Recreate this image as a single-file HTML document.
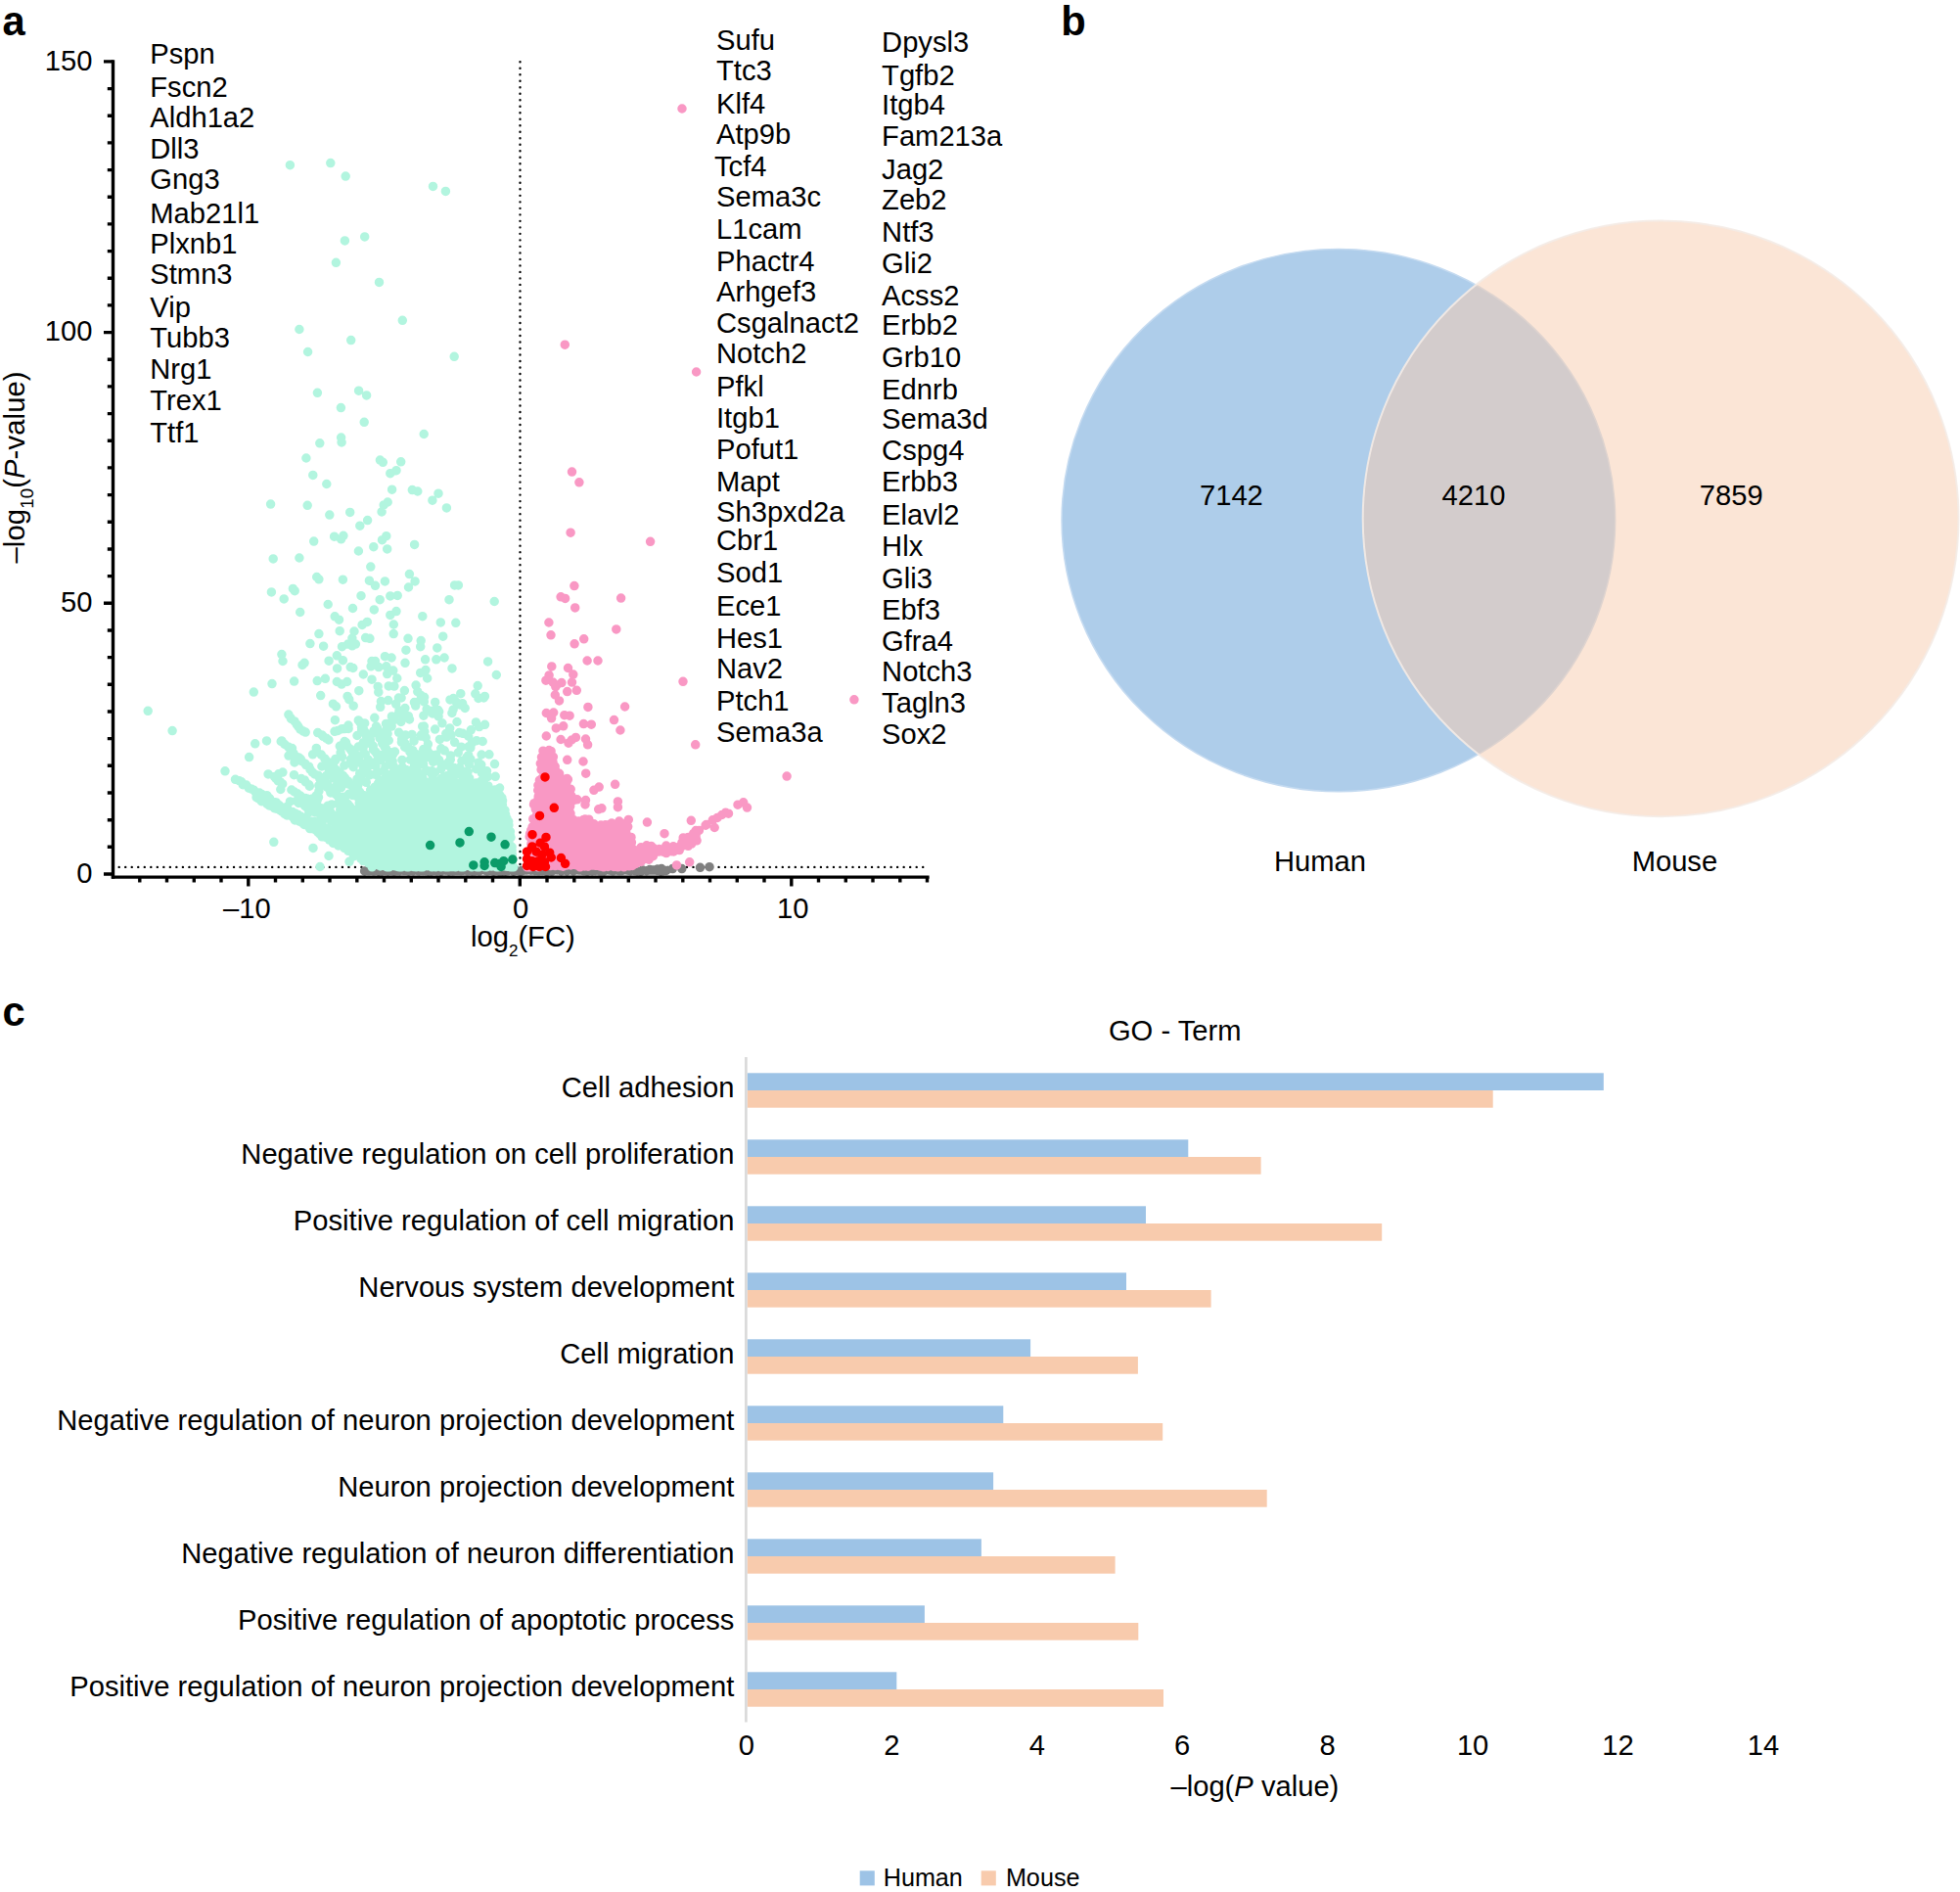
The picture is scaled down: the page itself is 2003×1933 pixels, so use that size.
<!DOCTYPE html>
<html><head><meta charset="utf-8"><title>Figure</title>
<style>html,body{margin:0;padding:0;background:#fff}svg{display:block}text{font-family:"Liberation Sans",sans-serif;font-size:29.17px;fill:#000}.pl{font-weight:bold;font-size:41.67px}</style></head><body>
<svg width="2003" height="1933" viewBox="0 0 2003 1933">
<rect width="2003" height="1933" fill="#fff"/>
<g stroke="#000" fill="none">
<path d="M531.5 63.2V892" stroke-width="2.4" stroke-linecap="round" stroke-dasharray="0 6.506"/>
<path d="M121.7 885.9H944" stroke-width="2.4" stroke-linecap="round" stroke-dasharray="0 6.52"/>
</g>
<path d="M372.6 890.0h0M375.8 889.4h0M377.5 889.6h0M381.9 889.8h0M384.7 889.2h0M387.0 890.2h0M390.1 890.0h0M393.6 889.5h0M396.4 889.9h0M398.9 889.6h0M402.6 890.1h0M406.0 889.4h0M408.4 889.7h0M411.7 889.2h0M413.9 889.3h0M417.6 889.9h0M419.0 889.1h0M422.3 889.7h0M426.6 889.4h0M428.2 889.7h0M432.2 889.5h0M434.5 889.4h0M437.5 890.0h0M440.8 889.9h0M444.1 889.2h0M446.6 889.8h0M450.7 890.2h0M452.3 889.3h0M455.2 889.2h0M458.8 889.9h0M462.8 889.7h0M464.3 889.4h0M467.3 889.3h0M471.1 889.6h0M473.3 889.3h0M477.8 889.8h0M480.2 889.4h0M482.6 890.0h0M485.0 889.8h0M489.9 889.8h0M491.1 888.9h0M495.6 889.2h0M497.8 889.8h0M501.4 889.3h0M504.4 890.2h0M506.9 889.5h0M510.4 890.1h0M513.4 890.2h0M516.6 890.2h0M518.5 889.8h0M521.4 889.1h0M524.7 890.2h0M527.6 889.3h0M531.9 890.3h0M534.5 889.4h0M537.6 889.0h0M539.0 889.0h0M542.7 889.2h0M546.7 889.5h0M549.7 889.6h0M551.7 889.4h0M554.1 889.5h0M558.9 890.3h0M561.9 889.0h0M563.9 890.1h0M566.3 889.0h0M569.4 889.0h0M573.5 889.9h0M577.0 889.0h0M579.4 890.0h0M581.4 889.0h0M586.0 890.0h0M587.1 889.2h0M591.3 889.1h0M593.9 889.1h0M596.2 889.6h0M600.1 890.1h0M602.0 889.4h0M605.1 889.7h0M608.3 889.4h0M612.9 889.8h0M615.3 889.7h0M617.4 889.9h0M621.9 889.0h0M624.7 889.4h0M626.4 889.8h0M630.7 889.1h0M632.4 889.6h0M635.4 889.6h0M640.0 888.9h0M641.9 889.2h0M644.3 889.7h0M648.9 889.6h0M651.1 889.9h0M654.7 890.3h0M656.7 889.1h0M660.8 889.7h0M663.8 889.1h0M666.6 889.1h0M668.3 889.1h0M671.7 889.5h0M675.3 890.2h0M677.9 889.7h0M680.8 889.4h0M687.3 887.6h0M696.8 887.6h0M715.5 886.3h0M725.0 885.7h0M672.0 888.0h0M676.0 887.5h0M664.0 888.5h0" stroke="#808080" stroke-width="9.5" stroke-linecap="round" fill="none"/>
<path d="M415.2 797.3h0M425.1 797.6h0M427.6 797.2h0M432.7 798.2h0M444.9 797.8h0M393.9 801.6h0M396.6 800.3h0M399.8 801.1h0M403.9 799.3h0M408.6 799.6h0M413.2 799.2h0M416.3 799.5h0M420.8 800.2h0M424.8 801.9h0M430.9 799.5h0M433.9 800.2h0M438.5 799.4h0M444.2 802.2h0M447.2 800.6h0M450.2 799.4h0M455.2 799.9h0M461.0 799.6h0M462.6 802.1h0M476.8 802.2h0M383.0 804.2h0M385.4 805.2h0M390.1 805.3h0M396.3 804.0h0M398.7 805.7h0M403.9 803.3h0M406.2 803.2h0M412.9 805.3h0M414.7 805.4h0M421.5 804.8h0M423.7 804.5h0M427.2 802.8h0M434.1 804.8h0M436.9 805.7h0M440.8 805.5h0M446.2 803.4h0M448.6 803.6h0M452.8 804.6h0M457.0 804.0h0M460.8 805.6h0M465.7 804.2h0M470.7 805.6h0M474.3 805.6h0M478.8 804.4h0M483.1 802.8h0M487.0 803.3h0M489.8 805.3h0M378.7 807.1h0M382.9 808.5h0M389.4 809.2h0M391.6 808.7h0M397.4 806.8h0M402.3 809.5h0M404.4 809.4h0M409.2 807.9h0M415.3 809.0h0M416.8 807.7h0M422.1 807.4h0M425.3 807.4h0M431.2 806.4h0M434.9 807.8h0M437.4 807.4h0M443.5 808.0h0M445.9 809.5h0M452.4 809.5h0M454.4 807.2h0M458.4 808.9h0M463.4 806.8h0M468.1 809.3h0M473.5 807.2h0M475.6 809.3h0M481.1 808.6h0M483.8 806.5h0M489.9 807.7h0M492.1 809.4h0M498.1 808.9h0M500.6 809.1h0M504.7 809.1h0M379.0 811.4h0M382.2 812.7h0M386.1 811.6h0M391.2 813.2h0M394.3 812.7h0M399.7 812.1h0M402.9 811.1h0M406.0 810.4h0M410.2 812.4h0M415.0 810.5h0M418.7 812.7h0M425.4 812.2h0M427.7 810.8h0M431.9 811.5h0M435.7 811.4h0M440.2 813.1h0M446.7 811.8h0M448.6 813.1h0M453.0 811.2h0M456.2 811.2h0M461.9 811.6h0M465.2 811.6h0M468.8 810.9h0M473.3 811.3h0M477.3 810.1h0M482.4 810.8h0M487.5 811.7h0M492.2 812.1h0M496.3 812.8h0M499.4 811.1h0M505.6 810.5h0M508.9 812.1h0M510.9 812.7h0M372.1 815.8h0M375.9 813.7h0M381.1 816.1h0M384.3 815.4h0M389.0 813.9h0M393.5 814.5h0M395.5 814.5h0M401.8 814.3h0M406.1 816.8h0M409.5 814.9h0M413.6 815.9h0M418.8 815.6h0M422.6 813.9h0M425.2 814.5h0M431.3 814.6h0M434.9 813.7h0M437.5 814.5h0M443.7 815.9h0M447.9 814.6h0M451.6 815.2h0M455.6 814.0h0M461.2 814.3h0M465.6 816.7h0M466.8 815.1h0M473.5 816.8h0M476.5 814.5h0M480.0 816.7h0M484.2 815.5h0M488.2 815.3h0M494.9 814.1h0M498.7 815.3h0M503.1 815.9h0M505.2 816.5h0M510.3 813.7h0M512.9 815.2h0M372.5 820.0h0M377.3 820.3h0M381.4 818.2h0M386.4 817.9h0M390.2 820.4h0M396.0 819.9h0M399.4 820.2h0M404.6 819.1h0M408.1 817.5h0M412.3 818.8h0M416.6 819.4h0M419.3 817.5h0M425.6 817.7h0M428.3 818.4h0M432.0 819.7h0M438.3 818.2h0M441.5 818.3h0M445.4 818.6h0M448.3 817.8h0M452.7 820.2h0M457.8 818.0h0M463.3 820.5h0M466.0 817.8h0M469.4 817.6h0M474.1 817.6h0M478.0 818.2h0M483.2 820.2h0M488.0 818.6h0M491.1 819.0h0M495.2 818.4h0M498.4 818.2h0M505.5 817.7h0M508.2 819.3h0M513.6 818.0h0M371.8 823.2h0M377.3 823.3h0M380.6 823.4h0M384.2 822.7h0M387.0 823.5h0M391.8 823.9h0M397.4 822.0h0M399.9 821.8h0M405.7 823.2h0M408.3 821.2h0M413.8 822.8h0M417.5 821.7h0M422.4 821.0h0M425.7 822.5h0M432.0 823.0h0M435.9 822.5h0M438.1 821.8h0M444.6 823.2h0M446.7 821.0h0M451.5 823.1h0M455.4 821.8h0M460.4 823.9h0M463.2 821.1h0M467.8 822.3h0M473.1 821.6h0M477.7 823.3h0M480.9 821.6h0M486.6 822.0h0M490.3 821.7h0M492.6 823.4h0M497.0 824.0h0M501.9 821.6h0M505.2 822.3h0M510.8 824.0h0M513.4 822.2h0M368.5 824.6h0M373.1 825.8h0M379.5 825.0h0M383.7 825.3h0M385.9 827.3h0M391.6 826.0h0M393.4 826.1h0M398.6 827.6h0M402.2 825.8h0M408.7 824.7h0M411.3 827.2h0M416.7 824.8h0M418.5 824.8h0M425.5 825.5h0M429.2 827.5h0M432.1 825.5h0M438.3 826.6h0M440.2 826.9h0M444.6 825.5h0M447.8 827.1h0M454.9 826.7h0M459.2 824.7h0M461.1 826.2h0M467.7 827.7h0M470.0 825.4h0M474.4 826.2h0M480.2 825.2h0M484.0 827.0h0M488.2 827.1h0M491.7 825.7h0M495.0 825.8h0M500.7 824.9h0M503.0 827.0h0M507.4 824.8h0M510.9 826.4h0M516.0 827.8h0M364.4 829.2h0M367.7 829.5h0M372.5 828.9h0M375.1 829.1h0M379.0 831.1h0M384.6 829.3h0M388.2 831.5h0M392.7 829.0h0M397.9 830.4h0M402.7 828.6h0M405.2 830.9h0M410.6 831.2h0M412.2 829.2h0M416.7 828.9h0M423.6 830.2h0M427.7 829.5h0M431.7 829.7h0M433.9 830.8h0M440.3 828.6h0M443.4 830.3h0M446.4 829.5h0M450.4 828.9h0M454.9 830.2h0M460.4 828.9h0M462.5 829.3h0M468.9 828.9h0M471.9 828.9h0M477.6 830.0h0M479.5 828.6h0M484.8 830.0h0M489.7 828.6h0M492.4 830.5h0M497.4 829.2h0M501.3 831.3h0M505.5 830.1h0M509.8 829.6h0M515.7 831.5h0M365.0 833.6h0M368.5 832.8h0M373.9 834.9h0M376.7 833.5h0M383.2 835.0h0M385.4 832.3h0M392.0 835.1h0M394.7 832.1h0M400.4 833.2h0M404.5 833.9h0M408.4 832.5h0M412.5 832.7h0M415.5 834.6h0M421.1 832.5h0M423.3 833.2h0M428.5 833.2h0M431.4 832.7h0M437.5 834.8h0M439.5 833.7h0M446.0 832.1h0M450.5 832.3h0M453.9 833.7h0M458.2 832.9h0M461.7 833.8h0M466.0 834.0h0M470.2 833.3h0M473.1 833.9h0M478.8 832.7h0M483.8 834.4h0M487.1 832.5h0M491.3 832.3h0M494.4 833.3h0M498.5 833.4h0M504.0 832.1h0M508.6 832.2h0M513.1 834.4h0M516.6 832.1h0M360.0 838.6h0M361.9 836.7h0M368.3 836.1h0M373.0 836.5h0M376.9 836.1h0M380.1 838.5h0M383.4 836.4h0M388.5 836.6h0M391.2 836.2h0M395.8 838.6h0M401.7 838.5h0M404.2 838.1h0M408.3 837.3h0M414.1 836.7h0M419.1 837.4h0M422.4 838.4h0M425.0 838.8h0M430.9 836.9h0M435.7 836.4h0M440.5 837.4h0M442.7 838.0h0M447.1 836.2h0M452.3 835.7h0M456.7 836.4h0M460.3 838.7h0M464.4 837.7h0M467.7 835.6h0M471.0 836.1h0M477.1 837.0h0M480.9 838.5h0M483.9 836.3h0M489.8 835.7h0M491.9 836.7h0M496.4 836.7h0M501.0 837.5h0M506.4 836.2h0M510.7 837.1h0M513.3 838.6h0M517.9 836.1h0M358.4 841.6h0M360.4 842.1h0M363.9 840.9h0M369.3 840.0h0M372.4 841.7h0M376.4 841.0h0M383.6 839.7h0M385.4 841.2h0M390.6 841.3h0M395.8 839.8h0M398.4 840.2h0M401.8 842.1h0M408.3 841.5h0M410.0 842.0h0M416.6 840.7h0M420.8 840.7h0M423.3 839.6h0M427.5 839.4h0M432.1 841.6h0M437.4 842.0h0M441.7 840.1h0M445.4 840.6h0M450.3 840.9h0M452.8 841.3h0M459.3 839.9h0M463.2 839.3h0M465.4 840.0h0M471.2 842.3h0M475.4 840.3h0M480.0 840.3h0M482.2 842.2h0M487.6 841.5h0M491.9 842.4h0M495.5 841.9h0M500.4 842.0h0M503.8 841.6h0M508.4 840.2h0M511.5 841.2h0M515.2 842.2h0M519.7 839.3h0M353.5 844.8h0M358.7 845.5h0M364.3 845.8h0M366.1 845.7h0M373.0 845.9h0M374.6 843.6h0M378.9 843.0h0M385.4 845.5h0M388.9 845.5h0M393.1 843.8h0M395.6 843.2h0M401.9 843.6h0M404.7 844.3h0M408.0 843.7h0M413.0 845.2h0M417.5 843.9h0M423.6 844.5h0M427.4 844.9h0M429.0 844.2h0M434.5 845.4h0M438.4 845.2h0M443.2 843.6h0M448.5 843.2h0M452.5 843.4h0M454.1 843.5h0M460.7 846.0h0M462.5 844.5h0M468.3 845.5h0M471.5 844.5h0M476.2 845.6h0M480.1 845.9h0M484.4 843.6h0M489.9 844.5h0M492.3 844.9h0M496.4 845.4h0M502.5 845.4h0M506.5 844.0h0M510.0 844.2h0M515.7 843.2h0M519.9 843.0h0M353.6 848.6h0M356.5 847.6h0M360.1 849.3h0M365.9 848.9h0M368.5 848.0h0M374.7 848.4h0M376.8 848.0h0M383.4 847.3h0M385.4 847.5h0M391.3 849.3h0M393.7 847.1h0M398.2 847.6h0M403.3 847.1h0M406.8 847.2h0M413.1 848.9h0M414.5 849.6h0M418.7 847.8h0M425.7 849.1h0M429.1 847.9h0M431.6 848.6h0M435.5 847.2h0M440.6 846.7h0M444.9 849.1h0M450.0 848.2h0M454.0 848.0h0M456.7 848.5h0M461.7 848.9h0M467.5 847.9h0M470.6 849.0h0M474.3 847.3h0M479.5 849.4h0M483.9 848.8h0M488.3 848.7h0M491.9 848.0h0M495.0 848.6h0M498.5 847.9h0M504.9 848.8h0M508.6 847.4h0M512.2 848.0h0M517.0 847.9h0M521.4 849.5h0M349.6 852.7h0M356.3 851.9h0M357.8 852.0h0M363.4 852.5h0M367.5 852.3h0M372.8 851.9h0M375.6 853.2h0M379.2 852.4h0M384.0 852.7h0M387.3 853.4h0M392.2 850.4h0M396.2 851.5h0M399.5 851.5h0M405.0 852.4h0M409.0 851.1h0M412.8 852.6h0M419.3 851.9h0M421.2 852.8h0M426.0 850.9h0M429.3 852.7h0M435.7 852.2h0M438.8 852.0h0M442.2 853.3h0M446.8 852.3h0M452.5 852.8h0M455.6 851.2h0M460.1 850.6h0M465.2 851.3h0M469.4 851.1h0M472.1 851.0h0M476.5 850.8h0M479.3 852.5h0M484.4 851.0h0M488.7 851.7h0M493.3 852.2h0M498.2 851.4h0M503.3 852.9h0M504.7 852.9h0M511.6 852.7h0M513.3 852.9h0M519.1 850.3h0M521.3 853.3h0M343.5 856.3h0M348.1 854.4h0M354.1 856.4h0M355.9 856.7h0M361.5 856.4h0M365.9 856.7h0M370.5 856.5h0M372.8 856.1h0M378.1 856.2h0M382.0 856.7h0M386.6 854.7h0M389.7 854.3h0M394.8 854.1h0M398.9 854.3h0M403.2 855.5h0M407.5 856.6h0M410.0 856.6h0M415.7 855.7h0M420.5 856.6h0M423.8 855.2h0M429.9 854.1h0M433.0 855.9h0M435.3 855.8h0M441.6 856.8h0M444.7 857.0h0M449.4 855.4h0M454.9 854.0h0M458.5 855.9h0M461.5 856.6h0M465.8 855.4h0M470.5 856.3h0M473.7 855.3h0M478.6 855.6h0M484.0 854.8h0M488.2 855.2h0M491.4 854.7h0M495.6 857.0h0M500.3 856.4h0M503.5 854.9h0M507.6 855.7h0M512.8 856.4h0M515.1 856.2h0M522.0 855.6h0M336.5 858.1h0M343.6 859.5h0M347.0 860.0h0M352.0 859.5h0M355.3 859.5h0M359.7 859.4h0M363.9 858.2h0M368.0 859.0h0M372.5 857.8h0M374.9 857.6h0M381.0 860.4h0M384.8 858.7h0M389.5 860.0h0M392.9 858.3h0M396.3 858.9h0M400.5 858.9h0M405.8 860.5h0M408.1 859.3h0M412.2 857.9h0M418.9 859.4h0M423.4 858.9h0M424.7 858.8h0M430.8 860.5h0M436.2 859.0h0M438.6 857.8h0M443.6 858.2h0M446.2 857.6h0M449.9 859.7h0M454.5 860.6h0M458.6 860.3h0M462.9 857.6h0M469.0 858.3h0M473.2 858.1h0M475.3 860.0h0M481.6 860.3h0M485.8 857.8h0M489.7 859.8h0M493.4 860.5h0M496.9 860.6h0M502.6 857.6h0M504.5 859.6h0M511.3 857.8h0M513.9 859.9h0M517.6 860.3h0M348.2 863.2h0M353.2 862.5h0M356.6 863.7h0M362.6 863.7h0M365.6 862.1h0M368.2 864.3h0M374.5 863.8h0M377.5 863.1h0M383.7 863.8h0M386.7 862.2h0M390.4 864.0h0M394.4 863.4h0M399.3 864.0h0M404.2 862.1h0M405.8 862.0h0M411.4 863.0h0M416.8 864.0h0M418.5 863.8h0M425.2 863.9h0M428.6 862.0h0M433.7 863.8h0M437.4 864.1h0M440.5 861.4h0M445.4 863.7h0M448.4 863.6h0M455.0 861.9h0M458.1 863.3h0M461.9 861.8h0M465.4 863.6h0M471.3 862.6h0M473.3 863.8h0M479.7 861.9h0M483.3 864.0h0M488.4 862.8h0M491.3 863.1h0M494.6 861.8h0M498.8 863.4h0M503.6 863.0h0M507.9 862.8h0M511.3 861.3h0M518.2 862.4h0M519.5 863.2h0M351.9 866.4h0M355.1 865.7h0M360.0 866.2h0M364.7 867.3h0M368.5 867.9h0M370.9 864.9h0M374.9 865.4h0M378.8 865.0h0M384.5 867.6h0M388.4 867.9h0M394.0 865.0h0M397.2 866.1h0M399.9 867.9h0M404.5 866.6h0M410.0 867.9h0M414.2 866.1h0M417.7 865.3h0M423.6 868.0h0M425.4 864.9h0M429.7 866.0h0M436.0 867.7h0M440.0 865.0h0M444.0 867.1h0M447.8 868.0h0M450.1 865.3h0M456.5 867.8h0M460.5 865.8h0M464.4 867.3h0M467.0 865.9h0M471.7 865.2h0M476.6 865.4h0M480.1 865.3h0M485.7 864.9h0M490.0 865.5h0M492.0 867.8h0M496.8 867.8h0M503.1 867.7h0M504.9 866.3h0M509.0 867.8h0M515.6 866.8h0M518.5 865.9h0M355.9 869.3h0M362.3 869.6h0M364.3 870.1h0M369.0 871.4h0M372.6 871.6h0M376.6 871.3h0M382.7 869.2h0M386.3 869.4h0M389.8 869.1h0M394.4 871.7h0M400.6 871.4h0M401.9 869.4h0M408.7 868.7h0M412.3 869.4h0M417.3 868.5h0M421.0 869.6h0M423.0 868.5h0M429.5 870.2h0M431.6 869.9h0M438.1 869.2h0M441.2 868.9h0M444.2 870.9h0M450.1 869.1h0M452.3 868.8h0M458.1 870.1h0M461.3 869.1h0M466.6 870.7h0M471.4 870.3h0M473.6 868.7h0M479.5 869.8h0M483.7 868.7h0M488.2 869.6h0M492.5 871.2h0M495.6 868.5h0M501.1 870.0h0M505.2 869.3h0M507.2 871.1h0M512.0 869.0h0M516.2 870.4h0M519.2 870.1h0M363.3 873.8h0M367.6 872.2h0M373.2 872.8h0M374.9 872.5h0M379.3 874.7h0M382.8 872.4h0M389.1 872.8h0M391.2 874.1h0M397.1 873.8h0M401.7 872.5h0M406.5 874.4h0M408.0 872.5h0M413.7 873.7h0M417.2 872.5h0M421.8 872.6h0M426.6 874.9h0M429.4 874.0h0M435.5 872.7h0M439.9 875.1h0M442.7 873.5h0M448.4 873.8h0M451.2 875.1h0M456.6 873.2h0M459.1 873.2h0M463.9 875.3h0M469.3 875.1h0M473.5 874.8h0M475.3 873.8h0M482.4 875.1h0M484.3 873.5h0M489.7 873.3h0M493.6 872.4h0M497.5 873.7h0M500.4 872.6h0M507.6 874.6h0M511.7 874.2h0M515.5 875.0h0M519.9 872.2h0M523.4 873.0h0M368.9 877.3h0M373.9 876.3h0M376.8 876.2h0M381.5 877.1h0M385.7 876.6h0M389.3 877.5h0M395.9 877.7h0M399.2 877.9h0M402.2 878.1h0M407.3 877.5h0M412.0 877.3h0M415.2 876.6h0M419.1 877.4h0M423.8 877.7h0M426.8 876.9h0M433.8 876.6h0M437.0 877.4h0M440.3 878.9h0M444.5 878.3h0M448.3 876.0h0M454.8 877.2h0M456.4 877.0h0M461.8 878.1h0M464.9 876.5h0M471.9 878.2h0M473.5 876.9h0M478.3 877.9h0M483.4 878.5h0M488.2 877.4h0M492.2 878.2h0M496.4 877.3h0M500.7 878.1h0M505.3 876.2h0M509.4 875.8h0M513.3 877.7h0M516.6 878.9h0M521.0 877.1h0M376.2 879.7h0M381.4 880.5h0M385.4 882.1h0M390.0 880.1h0M392.5 882.4h0M395.3 879.6h0M401.3 881.0h0M406.6 881.9h0M409.6 882.6h0M413.8 881.1h0M418.5 880.7h0M421.6 881.3h0M425.8 882.5h0M431.1 881.1h0M433.4 880.6h0M438.6 881.2h0M443.3 882.3h0M448.8 881.0h0M451.3 881.4h0M457.3 880.5h0M460.0 882.1h0M463.0 880.5h0M469.8 882.1h0M472.5 879.8h0M478.0 881.6h0M481.9 882.6h0M486.3 880.8h0M488.2 880.4h0M493.5 881.1h0M496.7 880.0h0M502.3 881.4h0M505.6 882.6h0M510.7 879.6h0M514.2 882.0h0M518.1 881.7h0M521.3 880.4h0M380.8 883.1h0M387.3 884.1h0M391.3 884.2h0M393.7 883.9h0M397.7 885.8h0M403.5 884.2h0M407.2 884.3h0M410.2 885.8h0M416.1 885.8h0M419.8 885.1h0M423.4 883.2h0M429.8 885.8h0M432.0 885.8h0M437.8 884.1h0M441.3 885.8h0M445.2 885.8h0M448.6 884.3h0M454.3 883.8h0M457.2 885.8h0M462.0 885.6h0M465.4 883.7h0M469.9 883.7h0M476.1 884.0h0M479.0 883.5h0M483.1 884.3h0M486.9 883.3h0M490.2 885.7h0M495.1 883.9h0M498.8 884.0h0M503.2 883.2h0M508.7 884.2h0M511.3 885.4h0M515.3 884.0h0M521.9 883.5h0M524.8 885.8h0M386.2 701.4h0M397.2 700.9h0M402.9 701.1h0M425.1 700.1h0M488.2 700.6h0M259.3 707.1h0M366.8 705.7h0M386.8 707.2h0M413.4 705.6h0M426.8 706.7h0M327.7 710.6h0M355.1 711.4h0M430.3 710.5h0M470.8 708.7h0M485.8 708.8h0M495.4 711.4h0M356.8 714.7h0M396.7 715.6h0M407.4 713.0h0M410.1 713.0h0M430.1 714.4h0M433.6 712.3h0M460.0 714.9h0M463.3 713.6h0M488.9 713.5h0M494.4 712.9h0M340.4 719.2h0M389.4 716.6h0M404.7 719.3h0M423.4 717.6h0M433.3 716.9h0M444.7 717.4h0M466.3 717.3h0M469.8 719.9h0M472.6 718.7h0M343.5 721.8h0M361.2 721.2h0M388.7 722.3h0M413.9 723.6h0M424.7 721.1h0M475.2 723.5h0M408.0 725.9h0M436.1 724.5h0M442.0 726.2h0M447.8 725.5h0M448.7 727.0h0M463.1 725.0h0M400.4 731.9h0M407.6 728.6h0M412.7 730.7h0M417.4 731.7h0M432.9 731.2h0M442.0 728.9h0M448.1 732.0h0M461.9 728.5h0M342.4 735.7h0M382.8 733.3h0M403.0 735.4h0M418.5 735.0h0M368.8 738.3h0M372.7 738.9h0M394.5 739.4h0M397.7 739.2h0M409.8 737.5h0M451.9 738.8h0M467.0 737.5h0M486.4 737.9h0M356.0 741.1h0M385.2 743.5h0M400.2 742.1h0M431.7 742.2h0M433.3 742.1h0M489.7 742.6h0M495.5 740.3h0M369.5 746.6h0M381.9 746.9h0M395.3 744.5h0M433.9 747.5h0M444.6 745.1h0M459.7 744.1h0M481.3 745.8h0M365.0 751.5h0M379.8 750.0h0M395.0 748.6h0M396.1 749.6h0M407.6 748.3h0M414.4 751.1h0M421.0 750.4h0M430.5 750.8h0M455.8 749.6h0M461.0 750.9h0M469.4 748.6h0M472.9 749.3h0M410.6 755.3h0M430.0 752.1h0M435.2 753.7h0M449.4 755.4h0M456.4 753.1h0M478.7 752.2h0M260.7 759.8h0M371.3 758.7h0M397.3 756.5h0M410.4 758.3h0M413.6 759.0h0M423.0 757.2h0M464.6 758.3h0M482.1 759.5h0M487.0 756.7h0M493.2 757.5h0M347.3 762.3h0M366.2 763.0h0M381.2 762.6h0M413.6 763.2h0M416.7 763.5h0M437.4 760.3h0M471.4 763.2h0M478.7 763.0h0M298.5 764.6h0M323.3 764.4h0M371.1 764.1h0M382.5 766.9h0M403.5 768.0h0M415.9 764.3h0M421.8 766.7h0M432.8 765.6h0M436.8 766.9h0M450.8 764.8h0M454.2 766.8h0M480.8 764.1h0M319.6 770.8h0M348.1 768.9h0M363.3 771.1h0M371.6 770.1h0M373.3 770.5h0M389.0 771.6h0M398.4 768.5h0M401.8 770.3h0M418.9 768.2h0M426.7 770.9h0M430.6 770.8h0M439.6 770.4h0M441.0 771.9h0M445.6 771.2h0M460.4 771.9h0M468.2 769.0h0M478.7 771.7h0M492.1 771.0h0M499.9 770.8h0M295.0 772.1h0M342.9 775.4h0M349.5 773.2h0M358.4 775.9h0M364.3 772.5h0M422.7 775.4h0M435.8 773.8h0M441.2 773.4h0M444.4 773.8h0M477.0 773.6h0M480.9 775.5h0M301.0 778.9h0M342.8 776.8h0M376.3 776.1h0M384.5 778.0h0M399.1 776.7h0M401.2 777.6h0M410.9 776.4h0M419.3 776.1h0M427.4 779.2h0M432.0 776.8h0M442.6 778.3h0M448.6 776.4h0M458.6 778.3h0M460.3 776.1h0M471.9 777.5h0M479.2 777.0h0M489.0 779.2h0M328.9 783.0h0M351.8 782.1h0M359.5 780.8h0M361.1 783.7h0M373.8 781.3h0M378.7 781.4h0M383.9 781.9h0M384.0 782.6h0M393.9 783.0h0M402.0 782.4h0M411.2 783.8h0M423.6 780.7h0M426.4 783.6h0M428.9 780.1h0M432.6 780.8h0M450.7 780.1h0M457.9 782.0h0M479.3 780.8h0M491.8 781.3h0M505.5 780.6h0M335.7 784.4h0M337.2 785.2h0M373.0 786.6h0M392.3 787.6h0M402.8 785.0h0M405.5 786.1h0M415.0 786.5h0M418.7 787.2h0M421.9 786.7h0M435.8 787.1h0M437.7 787.8h0M441.6 787.8h0M450.9 785.4h0M460.9 784.9h0M464.1 784.5h0M469.7 784.3h0M486.8 785.7h0M489.9 784.1h0M497.5 787.8h0M274.1 790.9h0M284.7 790.8h0M288.9 789.1h0M300.5 791.7h0M336.3 788.6h0M342.5 790.8h0M367.7 790.2h0M368.6 790.8h0M383.2 791.2h0M386.3 788.8h0M400.4 790.7h0M408.8 790.3h0M414.5 789.0h0M417.7 790.1h0M426.9 788.9h0M430.6 790.8h0M441.2 790.7h0M444.6 788.9h0M469.3 790.9h0M474.4 788.4h0M478.1 788.6h0M492.5 790.0h0M307.9 795.6h0M327.0 795.1h0M333.6 792.4h0M341.2 795.1h0M344.4 792.3h0M350.1 795.3h0M352.7 795.1h0M365.0 795.9h0M369.0 795.0h0M393.9 794.9h0M400.8 795.8h0M407.3 793.4h0M409.0 793.9h0M419.4 793.3h0M423.0 793.4h0M425.7 795.3h0M432.0 795.1h0M451.4 795.3h0M453.5 793.5h0M457.5 792.4h0M463.6 793.6h0M479.7 795.2h0M498.6 793.5h0M506.2 793.3h0M311.2 796.9h0M312.3 799.0h0M374.3 799.3h0M387.5 798.7h0M389.4 797.5h0M403.7 796.1h0M405.7 798.9h0M408.4 798.1h0M420.9 799.0h0M431.5 800.0h0M433.5 798.8h0M441.2 797.3h0M450.2 798.0h0M459.8 800.0h0M463.2 796.7h0M471.0 799.5h0M475.7 796.8h0M478.0 799.6h0M491.7 798.2h0M494.5 799.2h0M315.8 801.8h0M316.3 803.2h0M325.8 802.6h0M344.6 801.6h0M356.9 800.3h0M361.3 802.0h0M365.9 801.8h0M386.4 800.6h0M388.3 802.8h0M397.4 801.7h0M402.8 801.6h0M407.5 802.3h0M411.4 802.9h0M414.5 803.7h0M417.7 801.2h0M422.7 802.9h0M429.5 803.4h0M438.7 801.4h0M445.6 800.7h0M451.6 803.2h0M453.3 801.9h0M457.5 803.6h0M462.1 803.7h0M465.9 801.3h0M470.4 803.1h0M473.5 801.6h0M479.7 802.2h0M481.3 803.3h0M486.8 800.1h0M488.2 803.2h0M492.9 800.2h0M498.9 802.9h0M286.8 806.5h0M348.7 804.6h0M362.1 806.7h0M365.8 807.2h0M385.6 807.8h0M396.6 804.7h0M402.8 804.0h0M412.0 807.2h0M418.7 806.3h0M427.8 807.8h0M433.3 805.5h0M439.6 807.2h0M453.3 807.0h0M458.4 804.6h0M465.1 807.7h0M471.7 807.0h0M475.0 806.3h0M481.7 807.7h0M487.1 804.4h0M488.5 807.5h0M494.9 805.0h0M506.0 806.9h0M510.6 805.1h0M325.9 808.3h0M337.9 809.9h0M356.5 811.3h0M360.7 810.0h0M364.7 811.7h0M379.7 808.9h0M398.1 811.4h0M400.4 811.7h0M411.0 808.9h0M415.3 811.8h0M422.7 810.2h0M424.7 808.5h0M430.0 809.1h0M434.2 811.0h0M436.6 811.5h0M443.8 811.9h0M446.3 811.9h0M450.2 809.3h0M452.8 808.5h0M458.5 810.3h0M465.4 811.8h0M470.2 811.5h0M473.4 810.4h0M479.9 809.0h0M484.0 810.2h0M490.0 808.5h0M272.8 812.7h0M319.3 815.9h0M323.0 813.1h0M325.5 814.6h0M350.9 814.2h0M360.6 812.6h0M366.4 815.2h0M370.0 814.3h0M378.2 812.1h0M381.7 812.9h0M391.3 813.0h0M393.9 813.6h0M399.1 812.9h0M403.3 813.8h0M407.7 814.4h0M408.3 812.3h0M412.4 814.6h0M417.2 814.0h0M424.6 813.2h0M431.6 814.8h0M432.7 812.2h0M439.4 814.6h0M442.5 812.2h0M445.3 812.4h0M450.9 814.0h0M454.7 813.7h0M456.4 815.6h0M460.9 813.6h0M464.4 814.7h0M473.1 814.7h0M477.6 814.8h0M480.6 812.3h0M488.0 815.7h0M490.0 814.0h0M494.7 814.0h0M503.7 815.3h0M509.9 812.5h0M296.4 818.9h0M321.5 818.7h0M324.2 817.4h0M374.1 817.9h0M377.5 818.0h0M380.9 817.1h0M386.0 817.7h0M388.7 818.1h0M395.1 818.8h0M398.1 817.0h0M405.5 817.2h0M410.8 819.3h0M414.9 816.9h0M417.4 817.2h0M423.0 818.9h0M424.9 819.1h0M430.7 818.5h0M433.1 816.2h0M436.1 819.8h0M442.7 819.9h0M444.9 817.3h0M451.2 818.9h0M453.5 817.1h0M458.8 819.6h0M463.5 817.8h0M465.3 819.9h0M468.6 817.1h0M477.3 819.4h0M484.8 819.1h0M488.5 819.6h0M493.6 818.4h0M496.1 817.6h0M500.0 817.5h0M510.7 818.5h0M512.1 818.7h0M335.2 823.2h0M339.1 821.9h0M345.5 820.9h0M367.2 820.4h0M371.0 821.8h0M377.8 820.9h0M380.4 820.4h0M385.7 822.0h0M390.8 822.1h0M398.0 822.0h0M403.4 820.8h0M405.4 821.3h0M410.3 821.1h0M415.8 821.5h0M418.6 822.1h0M421.3 823.4h0M425.7 823.8h0M429.6 820.6h0M434.7 821.8h0M436.9 823.2h0M443.3 821.5h0M444.1 820.9h0M454.7 822.0h0M456.8 820.7h0M462.8 821.0h0M464.5 822.5h0M470.0 821.3h0M472.5 821.9h0M476.5 821.2h0M482.2 822.5h0M486.3 820.9h0M491.3 822.3h0M493.5 821.8h0M510.4 820.1h0M293.3 824.3h0M347.7 827.2h0M352.4 827.7h0M370.8 825.9h0M376.8 827.8h0M383.0 827.3h0M386.8 825.6h0M388.9 827.8h0M394.0 826.0h0M399.0 827.0h0M401.4 824.8h0M406.9 826.6h0M410.1 824.6h0M413.9 826.0h0M416.8 826.9h0M423.2 824.4h0M426.5 825.9h0M430.3 824.9h0M432.0 827.2h0M439.3 826.2h0M442.5 824.5h0M445.2 827.5h0M450.7 827.3h0M454.7 827.8h0M456.4 825.6h0M460.6 824.9h0M465.6 824.6h0M470.3 824.8h0M474.2 825.8h0M479.3 824.1h0M480.8 824.2h0M486.3 826.2h0M491.1 825.2h0M492.9 826.3h0M497.5 825.9h0M502.6 826.8h0M506.2 826.9h0M511.4 827.5h0M513.0 824.3h0M299.0 829.6h0M315.8 830.0h0M337.6 831.6h0M362.2 831.5h0M365.5 831.5h0M374.5 830.5h0M380.5 829.2h0M386.9 828.8h0M390.6 830.6h0M393.8 829.3h0M397.3 828.5h0M401.1 831.2h0M406.2 831.2h0M410.9 828.3h0M412.1 830.9h0M416.7 829.6h0M421.7 828.5h0M425.2 831.9h0M429.7 828.9h0M433.3 830.6h0M437.6 831.0h0M440.4 828.2h0M447.5 828.8h0M451.1 829.1h0M454.1 829.7h0M459.6 829.0h0M461.7 828.1h0M467.7 829.2h0M470.8 828.3h0M472.4 829.2h0M476.1 829.5h0M481.9 828.1h0M484.9 828.3h0M488.8 830.1h0M495.3 829.7h0M497.0 831.4h0M503.0 828.4h0M510.4 831.5h0M512.3 830.8h0M335.3 834.4h0M340.0 834.6h0M351.5 832.7h0M354.5 832.8h0M358.9 832.4h0M365.9 834.6h0M372.8 835.8h0M377.7 833.5h0M383.0 834.6h0M386.3 834.1h0M391.8 835.9h0M396.0 833.9h0M397.0 835.0h0M403.8 835.3h0M405.1 835.1h0M409.2 833.5h0M415.4 835.4h0M416.7 832.6h0M420.8 833.3h0M424.6 834.9h0M431.4 833.3h0M433.2 833.1h0M436.0 833.7h0M440.1 835.4h0M444.0 835.8h0M449.0 832.1h0M454.8 834.3h0M457.0 833.1h0M461.5 836.0h0M464.5 835.4h0M470.8 835.2h0M474.2 835.3h0M478.2 833.1h0M480.8 834.8h0M487.1 834.5h0M491.7 835.2h0M493.3 835.7h0M496.4 833.3h0M503.7 834.6h0M507.7 835.1h0M509.8 835.0h0M512.4 834.5h0M329.2 838.0h0M346.4 840.0h0M349.3 836.0h0M352.2 837.7h0M374.3 836.1h0M377.0 838.5h0M382.2 837.5h0M385.6 836.4h0M391.2 838.4h0M394.4 839.5h0M399.0 836.2h0M402.7 837.1h0M407.3 839.6h0M410.3 837.5h0M415.0 838.5h0M418.2 839.7h0M423.7 838.3h0M424.1 837.8h0M430.9 839.9h0M433.9 838.5h0M438.8 839.8h0M441.3 839.5h0M447.2 836.1h0M451.2 837.0h0M452.9 838.8h0M458.4 837.3h0M463.8 839.1h0M465.0 838.1h0M469.4 839.2h0M474.2 839.1h0M476.1 837.1h0M483.7 836.7h0M485.6 838.2h0M488.3 837.3h0M492.5 837.2h0M498.3 836.5h0M502.0 836.6h0M507.3 836.9h0M516.0 839.5h0M327.1 843.1h0M328.4 841.1h0M344.4 841.4h0M352.3 843.0h0M358.7 840.3h0M362.7 843.5h0M365.8 840.1h0M369.0 843.2h0M375.1 842.1h0M376.5 841.5h0M381.1 843.0h0M385.3 841.1h0M390.6 841.9h0M395.7 843.8h0M398.3 843.5h0M401.0 840.4h0M407.1 840.6h0M412.0 841.9h0M415.4 843.6h0M416.5 842.5h0M423.7 842.6h0M426.1 841.2h0M429.9 843.6h0M435.7 841.9h0M436.6 843.7h0M443.5 841.7h0M444.1 843.4h0M449.5 843.3h0M455.0 841.9h0M456.8 843.2h0M460.4 843.9h0M465.5 841.7h0M471.6 843.8h0M473.5 840.4h0M478.1 842.3h0M483.9 841.7h0M485.7 840.7h0M490.4 842.2h0M493.0 841.3h0M497.8 843.9h0M500.8 840.2h0M505.4 843.1h0M508.9 843.1h0M514.2 842.1h0M516.3 842.7h0M343.9 846.7h0M353.3 844.9h0M361.8 847.5h0M372.9 846.8h0M378.9 845.4h0M382.3 847.3h0M385.5 847.9h0M391.5 844.1h0M393.6 847.1h0M396.8 847.1h0M403.0 846.0h0M407.1 844.9h0M408.0 845.0h0M415.1 846.5h0M418.9 846.7h0M422.1 846.4h0M424.8 845.2h0M428.4 845.4h0M434.3 844.7h0M436.5 847.0h0M440.4 845.0h0M445.1 847.5h0M449.1 847.0h0M454.2 845.0h0M459.8 844.1h0M461.3 844.8h0M467.6 844.1h0M469.2 844.1h0M473.1 844.8h0M477.5 844.5h0M481.0 846.3h0M485.2 846.1h0M490.9 845.4h0M495.2 846.2h0M497.3 844.5h0M502.4 844.4h0M507.5 844.1h0M509.0 846.1h0M518.0 846.7h0M338.2 851.8h0M343.4 851.1h0M355.8 848.4h0M366.7 849.6h0M375.7 849.5h0M377.9 851.2h0M382.2 848.1h0M384.3 851.4h0M389.7 851.9h0M395.8 848.3h0M398.9 850.4h0M403.7 849.8h0M407.3 849.1h0M411.7 849.1h0M412.5 852.0h0M416.8 848.6h0M422.7 850.3h0M425.7 851.8h0M429.7 848.2h0M432.4 851.8h0M438.9 848.2h0M442.0 850.0h0M446.0 851.2h0M451.5 849.7h0M453.0 849.8h0M458.3 851.6h0M462.1 852.0h0M464.1 849.3h0M468.5 849.7h0M475.7 849.9h0M478.8 850.9h0M481.2 850.9h0M486.2 850.4h0M488.7 849.4h0M495.2 851.9h0M496.8 848.4h0M503.0 850.6h0M506.1 850.2h0M510.6 850.6h0M514.0 851.0h0M516.5 849.7h0M329.0 854.8h0M337.5 852.9h0M354.4 855.9h0M360.6 852.2h0M364.3 855.2h0M369.9 855.6h0M376.4 854.4h0M381.0 855.7h0M384.5 852.9h0M390.3 853.3h0M395.3 852.7h0M397.3 855.8h0M401.3 854.4h0M405.6 854.5h0M409.4 852.1h0M414.2 852.7h0M418.5 855.6h0M421.0 854.3h0M427.1 852.6h0M429.8 855.6h0M432.8 852.5h0M437.3 853.6h0M441.6 853.9h0M447.1 855.6h0M451.7 853.0h0M454.1 854.7h0M457.1 852.5h0M461.4 854.8h0M466.1 852.8h0M469.3 854.7h0M472.0 854.8h0M476.3 853.0h0M483.3 854.2h0M485.0 853.2h0M489.4 855.2h0M494.8 855.5h0M496.5 852.2h0M501.0 854.1h0M506.3 853.7h0M511.9 855.0h0M512.2 855.9h0M519.4 852.5h0M336.7 857.0h0M341.9 858.2h0M352.2 859.3h0M357.3 856.6h0M363.1 856.5h0M367.4 858.8h0M370.7 859.2h0M372.6 858.6h0M376.5 856.7h0M380.5 857.5h0M386.2 857.6h0M388.4 857.3h0M395.5 859.7h0M398.1 859.2h0M400.5 857.0h0M407.5 857.3h0M410.2 856.4h0M415.2 859.2h0M417.3 856.6h0M422.8 857.5h0M424.6 859.3h0M431.2 857.4h0M434.1 859.0h0M437.4 858.8h0M443.4 859.0h0M445.5 857.1h0M451.2 857.2h0M452.8 859.9h0M459.2 858.1h0M462.2 857.6h0M464.4 859.7h0M468.6 858.7h0M475.2 858.8h0M476.2 856.0h0M483.1 856.6h0M487.1 856.6h0M491.6 859.0h0M493.9 857.1h0M499.1 858.7h0M502.9 857.9h0M505.5 859.5h0M509.8 858.3h0M514.1 859.8h0M519.6 858.9h0M340.5 861.4h0M345.7 863.9h0M356.9 860.1h0M360.2 862.1h0M366.7 862.2h0M369.2 862.9h0M374.9 861.9h0M377.1 860.2h0M382.5 860.7h0M387.5 863.4h0M390.0 860.7h0M395.0 863.9h0M396.0 861.4h0M402.4 860.4h0M405.4 863.6h0M409.2 860.7h0M414.4 863.3h0M418.2 862.9h0M423.7 860.4h0M428.0 862.1h0M429.0 860.1h0M433.1 862.2h0M438.3 863.7h0M443.5 861.0h0M444.1 861.7h0M449.0 861.5h0M452.9 862.8h0M456.4 863.7h0M462.8 861.4h0M464.3 864.0h0M469.8 863.2h0M475.7 862.1h0M478.1 863.9h0M482.7 863.4h0M486.2 863.4h0M491.4 860.1h0M494.3 860.6h0M497.8 860.7h0M502.4 861.7h0M504.4 862.9h0M509.0 863.2h0M515.5 860.7h0M519.0 862.4h0M520.1 861.7h0M353.9 866.7h0M357.7 864.7h0M362.2 867.6h0M369.3 864.9h0M375.0 865.0h0M380.0 865.6h0M381.7 866.6h0M384.8 865.4h0M388.3 865.2h0M395.0 866.5h0M398.7 864.0h0M400.1 865.7h0M406.1 866.5h0M411.4 865.7h0M413.4 866.5h0M417.1 867.1h0M421.0 865.3h0M426.0 864.1h0M430.4 867.2h0M435.1 865.6h0M437.7 865.8h0M443.7 867.7h0M446.8 864.6h0M451.3 866.7h0M453.3 865.1h0M458.1 864.1h0M461.4 864.3h0M467.6 867.3h0M469.7 864.4h0M475.2 867.2h0M476.5 864.1h0M483.4 867.3h0M484.9 867.4h0M489.3 864.0h0M493.7 867.1h0M498.3 867.9h0M503.7 867.9h0M507.0 864.9h0M509.4 868.0h0M513.7 864.5h0M518.0 866.8h0M523.1 865.3h0M358.0 868.2h0M362.2 869.9h0M366.3 870.6h0M371.1 869.5h0M375.9 871.2h0M376.4 868.9h0M380.5 868.1h0M384.0 869.0h0M388.8 868.0h0M393.0 869.3h0M397.4 869.3h0M403.3 871.0h0M404.0 868.9h0M409.8 868.8h0M415.6 868.5h0M418.2 868.5h0M422.5 870.7h0M426.5 869.5h0M428.1 871.4h0M435.6 868.3h0M436.7 869.4h0M443.4 871.3h0M445.5 871.7h0M450.3 870.7h0M453.5 868.4h0M456.7 868.5h0M462.6 870.5h0M467.4 871.0h0M470.1 868.7h0M472.6 868.3h0M479.5 870.6h0M480.9 870.4h0M484.1 868.4h0M490.4 868.3h0M493.0 870.4h0M497.4 871.8h0M501.7 870.2h0M508.0 871.1h0M510.9 870.6h0M515.9 871.0h0M518.3 869.8h0M523.1 868.9h0M361.3 875.0h0M367.2 872.0h0M368.8 873.5h0M373.5 875.9h0M378.3 875.9h0M382.4 875.3h0M384.1 875.8h0M390.3 872.3h0M393.5 874.6h0M399.7 873.5h0M403.6 872.9h0M405.9 875.9h0M408.8 875.2h0M413.7 875.1h0M419.2 872.5h0M421.4 875.3h0M427.6 873.9h0M428.6 874.0h0M432.7 875.5h0M439.5 872.6h0M441.9 872.4h0M447.7 874.9h0M450.4 875.4h0M454.4 872.2h0M456.7 873.0h0M462.0 874.3h0M465.9 872.6h0M470.2 873.2h0M475.8 875.7h0M476.3 873.6h0M481.0 875.0h0M484.6 874.0h0M491.6 873.8h0M493.8 874.1h0M496.7 873.1h0M500.0 874.4h0M507.0 873.7h0M508.9 875.5h0M512.2 872.3h0M517.6 875.9h0M522.9 872.1h0M371.2 879.6h0M374.4 876.0h0M378.5 879.1h0M380.5 876.9h0M384.3 876.4h0M391.2 878.2h0M395.9 878.3h0M398.3 879.4h0M401.7 878.3h0M406.6 876.7h0M409.3 877.9h0M412.1 878.0h0M418.4 879.3h0M422.5 877.2h0M426.0 878.1h0M431.1 878.0h0M433.0 879.3h0M439.8 877.0h0M442.5 876.1h0M446.7 877.3h0M450.7 876.6h0M455.1 878.7h0M456.4 876.9h0M460.1 878.6h0M467.7 878.2h0M469.9 878.1h0M473.9 879.7h0M476.0 877.4h0M482.5 878.0h0M487.7 879.0h0M488.1 878.8h0M494.6 878.0h0M497.8 879.3h0M500.2 876.5h0M506.2 876.7h0M511.7 879.5h0M515.2 876.4h0M519.2 877.4h0M523.5 878.8h0M376.6 881.9h0M380.3 881.1h0M385.1 883.1h0M388.3 881.9h0M395.1 880.2h0M398.5 881.9h0M402.1 880.7h0M404.5 881.2h0M410.3 882.0h0M414.0 881.5h0M416.1 881.4h0M424.0 883.6h0M424.6 883.4h0M431.2 882.6h0M435.0 881.1h0M438.2 883.0h0M441.0 881.6h0M444.3 883.5h0M450.0 882.2h0M452.3 881.4h0M458.1 882.0h0M460.9 882.7h0M467.7 883.6h0M469.1 882.1h0M473.4 880.3h0M479.8 883.0h0M481.1 883.7h0M487.4 883.4h0M491.8 882.6h0M493.7 882.4h0M499.5 883.6h0M500.0 883.1h0M506.6 880.3h0M511.6 881.5h0M515.9 880.8h0M516.2 882.2h0M520.6 883.0h0M380.2 885.8h0M387.5 884.2h0M388.6 885.0h0M395.0 885.7h0M397.6 885.8h0M403.8 884.8h0M406.2 885.4h0M408.2 885.8h0M415.7 885.2h0M417.3 885.8h0M422.7 885.6h0M425.2 885.8h0M430.9 885.8h0M432.3 884.4h0M436.7 884.7h0M441.4 885.8h0M445.0 884.7h0M450.7 885.8h0M455.2 885.8h0M458.4 885.8h0M460.4 885.5h0M465.5 885.8h0M471.1 885.8h0M473.5 885.8h0M476.8 884.5h0M482.0 885.8h0M487.5 885.8h0M488.1 884.5h0M495.5 885.8h0M497.7 885.7h0M502.2 885.1h0M507.5 885.8h0M509.2 885.8h0M515.3 884.8h0M518.2 885.3h0M521.9 885.8h0M240.5 796.3h0M244.4 797.7h0M246.7 798.8h0M248.2 801.7h0M251.7 802.0h0M254.3 805.2h0M256.8 805.9h0M259.5 807.3h0M261.3 809.6h0M265.1 810.0h0M267.1 811.2h0M271.1 814.1h0M272.6 815.1h0M275.6 815.8h0M277.2 818.4h0M280.1 819.6h0M282.5 820.0h0M285.4 822.8h0M288.9 825.0h0M291.7 825.5h0M293.0 827.9h0M296.6 829.2h0M298.4 830.7h0M301.9 831.0h0M304.4 832.2h0M307.4 834.0h0M310.3 835.5h0M312.9 837.9h0M315.6 840.0h0M317.4 841.0h0M320.2 843.0h0M323.7 844.2h0M325.9 844.7h0M329.2 847.7h0M331.9 847.9h0M334.3 850.1h0M337.0 851.9h0M338.9 852.6h0M342.2 854.6h0M344.3 856.6h0M346.0 856.4h0M349.5 858.0h0M352.9 859.5h0M355.6 861.3h0M356.8 863.9h0M360.5 864.7h0M363.0 866.5h0M366.3 868.0h0M368.1 869.4h0M370.5 871.3h0M372.6 872.9h0M376.9 874.5h0M262.1 814.7h0M263.8 815.7h0M267.3 818.7h0M270.6 818.8h0M273.0 821.5h0M275.1 823.0h0M277.1 823.5h0M280.4 825.7h0M282.9 826.3h0M286.3 828.0h0M288.1 829.1h0M290.8 831.5h0M293.2 832.9h0M296.1 833.1h0M299.6 835.1h0M301.4 837.9h0M303.4 837.6h0M306.0 839.2h0M309.9 841.4h0M310.9 842.4h0M314.5 843.7h0M316.7 846.6h0M319.6 846.7h0M322.5 848.0h0M325.0 850.5h0M326.7 851.8h0M329.8 853.6h0M333.0 855.4h0M335.6 855.4h0M337.4 857.9h0M341.3 858.1h0M343.1 860.0h0M345.8 862.7h0M348.7 863.9h0M351.7 864.4h0M354.0 866.1h0M356.3 867.9h0M359.4 868.6h0M362.3 870.1h0M363.9 872.9h0M367.9 873.4h0M370.4 874.2h0M373.0 876.0h0M373.8 878.6h0M376.7 880.0h0M379.0 880.2h0M297.9 807.0h0M300.8 809.0h0M303.9 810.8h0M307.0 813.0h0M308.0 814.6h0M312.1 815.4h0M313.9 816.1h0M316.1 817.7h0M318.5 819.9h0M321.4 821.7h0M324.5 823.4h0M326.1 824.9h0M329.6 825.9h0M331.7 827.6h0M334.6 829.1h0M337.6 829.4h0M339.6 832.1h0M341.7 833.4h0M345.3 835.0h0M347.5 836.1h0M350.4 838.1h0M352.2 839.1h0M355.2 840.8h0M357.8 841.5h0M360.4 844.3h0M363.3 845.8h0M366.6 846.1h0M368.9 847.0h0M372.3 849.8h0M373.2 851.0h0M303.0 818.3h0M305.2 820.4h0M308.6 820.2h0M311.6 823.4h0M313.2 824.6h0M317.0 826.5h0M318.1 827.9h0M321.1 829.4h0M324.6 830.2h0M327.7 832.5h0M330.5 834.3h0M332.3 835.4h0M335.2 836.3h0M337.5 838.0h0M339.6 839.1h0M343.5 841.8h0M345.9 843.0h0M348.1 844.3h0M351.1 844.7h0M353.3 848.2h0M355.5 848.7h0M357.9 849.8h0M362.0 850.9h0M364.6 854.0h0M367.4 854.4h0M370.2 856.2h0M371.9 858.9h0M287.2 757.5h0M288.5 758.2h0M291.0 760.5h0M294.4 762.9h0M296.8 765.8h0M297.5 767.9h0M300.0 769.7h0M301.7 772.4h0M305.3 773.9h0M307.3 775.5h0M308.4 777.6h0M311.8 780.2h0M312.8 781.6h0M315.7 783.2h0M317.0 786.2h0M319.4 789.2h0M321.6 791.0h0M325.1 792.2h0M326.8 795.6h0M329.2 796.5h0M332.1 798.3h0M334.3 800.5h0M335.4 802.6h0M338.1 805.8h0M340.3 806.5h0M343.2 809.7h0M344.4 812.0h0M345.8 813.6h0M349.4 816.0h0M351.3 816.7h0M353.1 819.2h0M355.6 821.5h0M357.5 823.9h0M360.0 826.7h0M361.6 827.5h0M328.3 771.1h0M331.8 774.9h0M332.5 775.9h0M336.3 779.0h0M338.6 781.4h0M339.5 781.7h0M341.6 784.7h0M343.3 786.3h0M346.4 789.3h0M348.0 790.3h0M350.5 792.4h0M352.3 794.6h0M355.8 798.2h0M356.5 800.2h0M360.3 802.0h0M361.4 804.5h0M363.2 805.1h0M294.9 730.1h0M297.1 733.5h0M297.6 734.5h0M301.0 736.9h0M303.3 740.2h0M304.7 742.1h0M306.9 745.2h0M310.0 747.1h0M312.2 748.1h0M280.5 793.6h0M282.0 795.3h0M284.2 797.8h0M286.5 798.9h0M288.7 800.9h0M324.7 748.6h0M329.0 750.9h0M330.3 752.3h0M333.6 754.3h0M335.9 756.0h0M342.0 747.3h0M345.3 746.5h0M349.4 744.7h0M352.2 744.6h0M356.1 744.4h0M317.6 839.0h0M321.2 839.2h0M323.8 841.8h0M325.4 842.8h0M329.7 843.8h0M332.3 846.1h0M333.8 846.3h0M337.5 848.3h0M339.3 849.9h0M342.8 852.3h0M345.8 853.5h0M347.1 854.2h0M349.4 855.4h0M352.8 856.9h0M355.8 858.3h0M358.8 860.3h0M360.7 862.4h0M363.6 862.5h0M367.3 865.5h0M370.1 866.1h0M371.5 868.4h0M344.3 790.9h0M347.6 792.1h0M348.8 793.6h0M351.8 797.0h0M353.6 798.2h0M355.8 800.9h0M359.5 802.6h0M361.8 803.4h0M363.1 805.1h0M366.1 807.2h0M367.7 809.3h0M371.5 812.6h0M372.6 814.9h0M374.7 815.3h0M377.4 818.6h0M379.2 820.6h0M352.1 757.6h0M353.5 758.6h0M354.9 762.4h0M357.6 765.0h0M358.8 766.6h0M360.7 770.2h0M363.5 771.3h0M365.5 773.6h0M366.8 776.5h0M369.2 779.9h0M370.9 781.4h0M371.5 784.8h0M374.7 786.0h0M376.8 790.3h0M377.7 792.0h0M366.3 735.9h0M367.8 737.8h0M369.5 740.4h0M369.5 743.3h0M371.7 745.6h0M373.1 748.1h0M374.4 751.9h0M377.0 754.0h0M378.4 756.1h0M379.2 760.1h0M381.2 762.1h0M381.5 766.0h0M383.8 768.1h0M384.8 769.8h0M386.7 773.1h0M388.8 776.3h0M384.5 742.1h0M385.7 744.2h0M387.4 748.0h0M387.8 750.2h0M388.0 754.1h0M390.5 757.0h0M390.7 759.6h0M392.9 762.8h0M394.4 764.6h0M395.3 767.4h0M396.3 771.4h0M396.3 774.1h0M398.7 777.9h0M398.8 780.2h0M401.4 782.3h0M402.8 786.9h0M332.7 802.4h0M334.5 804.5h0M337.2 807.5h0M340.4 809.3h0M342.7 811.1h0M344.3 812.3h0M346.0 814.4h0M347.6 818.1h0M349.7 819.1h0M352.7 821.6h0M353.9 822.8h0M357.4 825.5h0M358.4 827.7h0M361.2 830.8h0M362.7 831.2h0M365.0 834.0h0M368.9 836.6h0M272.5 756.9h0M287.9 756.9h0M254.6 773.6h0M230.0 787.8h0M279.8 860.3h0M320.0 866.4h0M336.0 874.5h0M357.0 880.3h0M327.0 885.5h0M296.4 168.7h0M337.8 166.6h0M353.2 180.1h0M442.5 190.4h0M455.4 195.4h0M372.7 241.9h0M352.4 245.9h0M343.4 268.3h0M387.5 288.4h0M411.3 327.3h0M305.9 336.5h0M358.7 347.6h0M314.6 359.5h0M464.2 364.3h0M324.4 401.3h0M366.6 399.2h0M374.6 403.9h0M348.4 416.6h0M372.2 431.3h0M433.2 443.5h0M326.8 452.8h0M348.6 447.0h0M349.1 451.9h0M312.9 468.0h0M388.4 470.1h0M391.3 472.3h0M409.7 471.8h0M405.0 480.7h0M398.8 483.7h0M319.8 485.4h0M333.8 494.5h0M400.6 500.2h0M421.3 500.6h0M426.8 502.0h0M448.0 504.2h0M441.9 511.2h0M456.4 518.9h0M276.6 515.1h0M314.2 516.3h0M396.2 513.0h0M392.2 515.9h0M390.1 522.9h0M336.8 526.1h0M357.7 523.4h0M375.6 531.6h0M367.8 537.2h0M341.6 548.2h0M350.9 547.3h0M348.6 550.8h0M320.7 553.1h0M394.8 547.7h0M390.5 551.7h0M381.8 558.7h0M395.7 560.9h0M366.4 563.0h0M423.6 556.4h0M279.2 570.9h0M305.9 570.0h0M378.8 579.1h0M418.4 586.6h0M424.1 593.9h0M417.5 600.0h0M323.7 589.5h0M325.9 591.8h0M350.4 592.2h0M377.4 593.2h0M383.5 598.3h0M393.4 593.9h0M464.6 597.9h0M468.4 597.9h0M277.4 604.9h0M299.4 601.4h0M301.2 603.7h0M290.2 611.9h0M369.0 608.7h0M398.8 608.9h0M406.2 608.4h0M388.2 612.7h0M459.0 612.7h0M505.2 614.5h0M335.2 617.5h0M360.5 621.5h0M382.3 622.9h0M405.0 624.6h0M398.8 628.4h0M306.7 625.5h0M431.8 629.7h0M342.2 629.8h0M346.5 633.2h0M375.3 635.4h0M370.1 638.4h0M402.3 638.0h0M450.3 635.9h0M465.8 636.3h0M347.2 644.7h0M362.0 645.0h0M325.9 647.6h0M402.2 647.6h0M452.7 650.2h0M373.6 651.6h0M377.9 652.3h0M359.9 652.0h0M417.0 652.3h0M430.2 654.6h0M429.7 660.7h0M316.9 657.6h0M330.6 660.2h0M349.5 660.7h0M355.6 658.1h0M359.9 659.8h0M363.4 658.1h0M446.8 661.9h0M414.9 664.2h0M287.9 668.6h0M289.0 675.5h0M344.3 669.8h0M350.4 674.7h0M336.1 675.2h0M311.1 677.3h0M309.0 679.4h0M393.4 670.7h0M400.1 672.0h0M380.0 675.5h0M383.5 675.5h0M414.0 677.3h0M434.6 673.8h0M445.8 673.8h0M454.1 672.0h0M498.6 675.9h0M344.6 682.9h0M358.2 681.6h0M360.8 682.5h0M379.1 680.8h0M387.0 681.6h0M394.8 680.8h0M401.8 685.1h0M462.0 682.9h0M435.0 684.6h0M429.7 687.4h0M395.7 688.6h0M371.3 689.0h0M507.3 689.5h0M405.8 693.0h0M436.7 693.0h0M380.0 694.2h0M332.4 693.3h0M324.2 695.6h0M300.6 696.1h0M278.0 698.6h0M344.3 696.5h0M354.7 696.5h0M349.1 699.1h0M151.2 726.3h0M176.1 746.6h0" stroke="#b2f5df" stroke-width="9.5" stroke-linecap="round" fill="none"/>
<path d="M561.1 766.5h0M555.0 767.2h0M558.3 770.1h0M563.1 767.4h0M553.5 773.6h0M555.8 772.2h0M560.2 773.0h0M565.4 773.3h0M556.5 776.4h0M560.6 774.6h0M564.5 775.3h0M552.3 780.1h0M558.4 778.1h0M559.9 778.3h0M565.0 778.3h0M555.7 782.8h0M560.6 784.6h0M564.4 782.8h0M567.2 783.0h0M553.1 786.3h0M556.4 787.6h0M561.0 787.6h0M566.4 786.4h0M568.3 787.9h0M555.7 789.6h0M558.4 789.8h0M563.0 791.7h0M568.9 791.4h0M571.6 790.3h0M553.8 795.3h0M556.6 792.8h0M562.9 792.8h0M566.1 795.0h0M569.7 795.4h0M572.9 794.8h0M579.5 795.4h0M551.4 797.2h0M556.5 797.1h0M559.3 797.8h0M564.9 797.2h0M569.0 798.5h0M572.1 799.2h0M577.3 798.6h0M580.4 796.3h0M549.9 802.3h0M552.0 800.9h0M555.8 800.9h0M561.5 802.2h0M565.6 802.6h0M571.4 801.7h0M572.5 800.3h0M578.8 800.3h0M552.0 803.9h0M555.4 804.7h0M559.9 806.3h0M564.6 806.6h0M569.2 804.8h0M573.5 805.9h0M575.4 804.5h0M580.4 806.2h0M583.2 806.3h0M549.7 807.5h0M553.4 808.2h0M557.8 808.1h0M560.4 808.0h0M566.3 809.4h0M571.1 808.5h0M572.6 809.7h0M577.4 809.4h0M582.4 808.6h0M550.2 813.7h0M554.7 813.9h0M559.5 811.9h0M563.7 813.8h0M568.3 813.4h0M572.1 812.8h0M574.9 813.5h0M580.7 812.9h0M583.9 813.2h0M549.9 816.5h0M551.4 815.8h0M558.1 814.9h0M561.4 816.6h0M565.7 815.5h0M568.3 816.7h0M572.9 816.4h0M578.3 816.8h0M581.2 817.6h0M587.4 817.2h0M589.8 816.8h0M545.9 820.7h0M552.3 821.1h0M554.0 818.2h0M559.1 820.5h0M563.7 821.2h0M569.3 820.3h0M571.1 819.4h0M574.7 819.4h0M581.1 819.1h0M583.5 819.8h0M545.5 821.9h0M549.9 823.4h0M552.2 822.7h0M557.4 824.1h0M560.4 822.0h0M564.7 823.8h0M569.5 824.2h0M574.7 822.9h0M578.5 822.2h0M582.7 823.8h0M547.3 826.6h0M551.1 826.6h0M554.4 825.9h0M560.1 826.8h0M562.4 828.2h0M566.6 826.2h0M570.8 827.2h0M577.0 825.5h0M581.7 827.7h0M548.9 831.5h0M552.1 829.2h0M557.9 829.7h0M562.5 830.9h0M564.4 830.7h0M570.7 829.8h0M575.5 829.3h0M577.1 831.0h0M583.0 831.0h0M548.2 833.6h0M552.3 834.1h0M554.7 835.6h0M560.3 834.9h0M562.8 833.1h0M566.7 833.6h0M570.9 834.6h0M575.5 833.4h0M581.5 833.9h0M582.9 832.8h0M544.8 836.7h0M549.6 837.8h0M553.4 837.8h0M558.1 838.6h0M560.2 838.1h0M564.8 838.8h0M569.4 837.1h0M572.5 839.5h0M577.0 837.2h0M583.8 836.5h0M586.3 837.8h0M591.4 838.9h0M596.5 837.4h0M597.9 837.1h0M601.8 837.2h0M632.8 839.0h0M547.0 840.2h0M549.5 841.7h0M556.5 842.3h0M559.1 840.9h0M562.3 842.1h0M568.5 841.3h0M570.6 840.9h0M576.8 842.5h0M580.0 842.9h0M584.1 840.1h0M587.8 842.9h0M593.6 840.3h0M596.4 841.3h0M601.2 840.1h0M606.8 841.7h0M614.1 843.0h0M618.8 842.8h0M623.5 842.2h0M625.1 841.0h0M631.0 841.4h0M634.0 840.3h0M640.3 842.2h0M544.1 844.8h0M549.3 844.5h0M552.2 846.5h0M558.1 846.7h0M562.3 844.3h0M565.6 846.4h0M570.8 844.4h0M573.9 845.6h0M576.6 844.5h0M583.2 845.8h0M586.4 845.5h0M590.9 844.8h0M593.7 846.1h0M600.1 845.1h0M604.3 846.3h0M608.2 846.3h0M613.3 843.8h0M617.4 845.1h0M621.1 846.0h0M623.1 845.6h0M627.3 846.0h0M632.3 844.9h0M636.3 846.3h0M641.7 844.6h0M542.8 848.1h0M547.3 849.2h0M552.4 849.0h0M554.6 850.2h0M559.7 848.4h0M564.0 847.8h0M566.7 850.2h0M571.8 849.9h0M575.2 848.8h0M579.5 849.9h0M584.8 848.6h0M588.3 848.0h0M592.0 849.6h0M596.5 847.7h0M600.9 848.8h0M607.1 848.6h0M609.4 850.5h0M614.6 848.8h0M617.8 848.1h0M621.2 848.9h0M626.9 847.7h0M630.6 847.9h0M635.2 848.4h0M639.6 849.8h0M711.1 848.6h0M714.4 848.4h0M541.6 851.9h0M544.8 852.5h0M547.6 853.3h0M553.1 854.2h0M558.5 853.9h0M560.6 851.3h0M566.6 851.3h0M570.4 851.6h0M574.7 851.2h0M576.9 853.8h0M582.4 852.4h0M588.1 853.5h0M589.9 853.3h0M594.6 852.5h0M598.6 851.7h0M602.8 851.9h0M606.6 853.8h0M611.4 852.8h0M617.0 853.2h0M619.1 854.0h0M625.8 853.7h0M628.1 853.7h0M633.3 851.1h0M636.6 853.2h0M641.3 854.0h0M708.8 851.4h0M711.1 853.7h0M541.2 854.9h0M546.0 856.5h0M551.4 855.6h0M555.1 855.7h0M559.6 855.0h0M563.9 854.7h0M569.1 855.3h0M572.1 855.3h0M575.9 855.5h0M580.8 857.1h0M585.6 857.8h0M588.6 856.4h0M592.4 855.6h0M597.1 857.8h0M599.9 857.0h0M604.9 856.6h0M608.9 857.0h0M613.9 855.6h0M617.9 854.7h0M621.0 857.6h0M625.2 855.9h0M631.2 854.8h0M636.3 855.3h0M640.6 856.0h0M643.6 856.6h0M698.2 855.9h0M703.4 855.4h0M705.6 857.6h0M711.2 856.0h0M543.2 861.2h0M550.0 858.4h0M551.9 861.2h0M558.2 859.2h0M562.4 860.2h0M564.8 860.5h0M569.5 858.8h0M575.1 860.6h0M577.4 859.7h0M583.0 859.5h0M585.8 860.0h0M592.2 858.6h0M594.2 859.8h0M600.8 861.5h0M601.8 860.4h0M606.4 859.0h0M610.6 859.9h0M617.6 861.4h0M619.8 861.2h0M625.0 858.5h0M629.9 859.2h0M634.3 858.7h0M638.3 859.9h0M641.2 858.9h0M645.4 860.7h0M696.9 860.9h0M701.5 860.5h0M703.1 859.7h0M710.0 858.3h0M712.1 858.8h0M542.9 862.2h0M547.9 863.3h0M549.9 862.3h0M555.2 863.1h0M559.3 862.3h0M563.0 863.6h0M566.4 863.6h0M573.0 863.8h0M574.9 864.0h0M579.0 862.4h0M582.9 863.7h0M587.7 862.8h0M591.7 864.8h0M596.0 864.1h0M602.3 863.4h0M605.8 863.0h0M610.7 864.2h0M612.5 864.2h0M617.0 863.5h0M621.3 863.5h0M627.0 864.3h0M630.1 862.1h0M634.7 864.9h0M639.3 863.9h0M644.2 864.0h0M660.8 863.8h0M665.5 864.4h0M680.8 864.1h0M688.1 864.8h0M694.4 864.9h0M698.3 864.0h0M703.3 864.3h0M706.7 862.1h0M541.5 868.0h0M543.4 866.3h0M547.9 868.0h0M552.2 868.5h0M556.9 866.2h0M561.1 866.1h0M566.8 865.7h0M569.5 866.8h0M572.5 866.3h0M579.8 868.4h0M582.1 868.4h0M587.9 868.4h0M591.5 867.4h0M595.0 867.9h0M599.5 868.7h0M602.4 868.5h0M608.4 867.0h0M612.9 866.5h0M615.7 867.5h0M621.7 866.4h0M625.5 867.7h0M629.9 866.6h0M633.3 868.5h0M638.2 867.8h0M642.3 867.6h0M645.6 866.2h0M649.7 868.7h0M655.2 865.7h0M657.4 866.4h0M663.3 866.2h0M667.3 866.2h0M670.1 868.7h0M673.6 867.5h0M678.3 868.0h0M681.8 867.8h0M686.6 868.7h0M691.1 867.8h0M694.3 868.6h0M541.1 871.3h0M545.3 870.0h0M549.5 869.8h0M555.9 870.1h0M560.9 870.2h0M564.5 871.6h0M568.2 871.2h0M570.7 871.9h0M577.5 871.0h0M579.3 869.5h0M583.7 872.4h0M588.1 870.2h0M593.0 869.4h0M598.0 871.8h0M600.7 869.4h0M606.8 871.9h0M610.5 869.9h0M615.4 871.3h0M616.6 872.4h0M622.9 869.9h0M627.7 871.2h0M631.1 869.4h0M634.0 871.8h0M637.5 869.9h0M641.9 871.1h0M646.3 871.8h0M651.5 871.8h0M657.2 872.4h0M659.1 870.4h0M665.2 870.3h0M669.9 870.3h0M673.1 870.1h0M677.6 870.2h0M680.9 871.6h0M686.4 869.7h0M688.5 869.9h0M539.5 875.0h0M544.3 873.1h0M547.5 875.0h0M554.0 875.1h0M558.4 875.1h0M562.3 875.6h0M565.9 874.6h0M568.7 873.7h0M572.7 873.3h0M577.9 873.9h0M582.6 875.6h0M585.9 875.8h0M591.9 873.5h0M595.3 873.6h0M597.8 873.6h0M602.5 872.9h0M606.1 875.5h0M613.0 875.7h0M614.6 873.0h0M621.3 874.1h0M623.9 875.2h0M628.7 874.0h0M631.7 873.3h0M637.7 875.8h0M639.7 873.6h0M645.5 873.8h0M649.6 874.5h0M653.0 873.3h0M657.7 875.5h0M661.0 874.6h0M667.4 874.7h0M542.2 877.9h0M547.5 879.4h0M552.5 878.1h0M554.9 879.2h0M559.1 877.2h0M563.4 877.6h0M566.9 879.0h0M571.4 878.6h0M575.5 876.9h0M581.2 879.1h0M585.2 878.5h0M587.7 878.2h0M594.0 879.1h0M597.4 878.6h0M600.2 876.8h0M606.6 876.6h0M608.9 877.9h0M614.5 878.8h0M619.3 879.5h0M621.6 877.4h0M625.3 877.6h0M629.4 879.6h0M635.1 878.1h0M637.7 879.5h0M642.5 879.0h0M646.6 877.4h0M650.5 878.3h0M655.2 878.4h0M660.8 877.3h0M663.1 878.2h0M540.1 883.0h0M543.5 883.0h0M548.6 882.8h0M552.7 881.1h0M558.5 882.3h0M562.1 881.9h0M566.3 883.3h0M570.6 883.3h0M573.5 881.2h0M579.4 882.9h0M583.6 881.6h0M586.3 883.3h0M589.8 880.8h0M594.0 881.2h0M598.9 881.5h0M603.3 880.3h0M607.1 881.9h0M610.4 881.8h0M617.3 882.3h0M621.6 883.0h0M624.4 880.3h0M627.2 882.1h0M633.9 881.3h0M635.8 882.7h0M641.3 881.7h0M644.2 882.0h0M649.8 882.5h0M655.1 880.5h0M538.7 885.8h0M541.7 885.8h0M546.8 884.5h0M549.9 885.8h0M556.5 884.5h0M558.5 884.3h0M562.6 884.6h0M567.4 884.6h0M572.4 884.6h0M575.4 885.2h0M579.2 884.0h0M583.2 883.9h0M589.3 884.0h0M592.8 885.8h0M597.5 884.9h0M601.0 885.2h0M604.9 884.1h0M608.6 884.3h0M613.0 884.9h0M616.8 885.8h0M621.3 885.5h0M627.1 885.5h0M631.5 885.8h0M634.7 884.6h0M637.6 885.8h0M642.9 884.8h0M646.2 884.5h0M598.5 817.5h0M598.0 822.0h0M697.0 111.0h0M577.3 352.2h0M711.6 380.0h0M584.5 482.1h0M591.9 492.8h0M583.1 544.2h0M664.6 553.3h0M586.9 598.6h0M573.1 609.8h0M577.6 611.4h0M634.6 611.1h0M587.7 620.9h0M560.9 636.0h0M629.8 642.9h0M563.0 648.8h0M596.7 652.8h0M587.1 657.8h0M600.1 675.0h0M611.0 675.0h0M563.8 680.9h0M580.5 682.5h0M585.8 689.1h0M561.1 689.9h0M557.9 695.2h0M565.1 697.1h0M569.1 699.7h0M573.9 697.6h0M584.5 697.1h0M698.0 696.3h0M872.9 714.8h0M567.8 701.6h0M579.7 706.6h0M589.3 705.3h0M567.3 710.0h0M571.5 715.9h0M600.9 722.4h0M558.3 728.5h0M565.7 728.0h0M563.6 733.8h0M576.8 730.7h0M582.1 731.2h0M596.4 739.6h0M604.3 740.2h0M575.7 741.8h0M568.3 743.9h0M558.3 752.0h0M573.1 755.5h0M581.0 759.2h0M584.2 756.0h0M588.4 753.4h0M598.5 755.0h0M600.6 760.8h0M638.6 722.0h0M627.5 735.6h0M633.9 746.0h0M710.7 760.8h0M579.7 776.3h0M596.0 778.0h0M598.7 790.2h0M628.6 801.3h0M612.2 804.1h0M606.9 807.3h0M631.4 818.9h0M631.4 824.7h0M614.9 825.8h0M611.7 826.8h0M661.4 840.1h0M706.3 838.3h0M721.1 843.2h0M679.0 851.7h0M642.3 837.4h0M645.0 855.4h0M691.5 883.9h0M704.7 880.8h0M804.1 793.1h0M759.7 819.8h0M754.0 822.2h0M763.5 825.1h0M741.6 830.2h0M744.5 831.2h0M737.8 832.5h0M733.1 835.4h0M728.3 837.8h0M730.2 845.5h0M721.7 842.6h0" stroke="#f998c4" stroke-width="9.5" stroke-linecap="round" fill="none"/>
<path d="M439.6 863.6h0M470.0 860.9h0M479.3 849.6h0M502.0 855.2h0M516.1 862.8h0M483.8 883.9h0M495.1 880.8h0M495.1 884.5h0M505.7 881.6h0M511.0 882.3h0M514.7 879.7h0M512.1 885.5h0M523.9 878.1h0" stroke="#0a9b68" stroke-width="9.5" stroke-linecap="round" fill="none"/>
<path d="M557.0 793.9h0M566.3 825.3h0M551.5 833.4h0M544.0 852.7h0M558.0 855.4h0M552.2 861.2h0M543.8 864.9h0M556.4 864.9h0M538.5 870.2h0M548.0 870.2h0M553.8 873.4h0M561.7 871.2h0M563.3 876.0h0M573.4 876.5h0M577.6 882.3h0M538.5 877.6h0M543.8 879.7h0M550.1 879.7h0M556.4 880.8h0M538.5 884.5h0M544.8 885.5h0M551.2 885.5h0M557.5 885.5h0" stroke="#ff0000" stroke-width="9.5" stroke-linecap="round" fill="none"/>
<g stroke="#000" fill="none" stroke-width="3.4">
<path d="M115.5 61.2V897.8"/>
<path d="M113.8 896.1H949.6"/>
<path d="M106 893.0H115.5M109.8 865.3H115.5M109.8 837.7H115.5M109.8 810.0H115.5M109.8 782.3H115.5M109.8 754.6H115.5M109.8 727.0H115.5M109.8 699.3H115.5M109.8 671.6H115.5M109.8 644.0H115.5M106 616.3H115.5M109.8 588.6H115.5M109.8 561.0H115.5M109.8 533.3H115.5M109.8 505.6H115.5M109.8 477.9H115.5M109.8 450.3H115.5M109.8 422.6H115.5M109.8 394.9H115.5M109.8 367.3H115.5M106 339.6H115.5M109.8 311.9H115.5M109.8 284.3H115.5M109.8 256.6H115.5M109.8 228.9H115.5M109.8 201.2H115.5M109.8 173.6H115.5M109.8 145.9H115.5M109.8 118.2H115.5M109.8 90.6H115.5M106 62.9H115.5M142.8 896V901.6M170.5 896V901.6M198.3 896V901.6M226.0 896V901.6M253.8 896V905.6M281.5 896V901.6M309.3 896V901.6M337.0 896V901.6M364.8 896V901.6M392.5 896V901.6M420.3 896V901.6M448.0 896V901.6M475.8 896V901.6M503.5 896V901.6M531.3 896V905.6M559.0 896V901.6M586.8 896V901.6M614.5 896V901.6M642.3 896V901.6M670.0 896V901.6M697.8 896V901.6M725.5 896V901.6M753.3 896V901.6M781.0 896V901.6M808.8 896V905.6M836.5 896V901.6M864.3 896V901.6M892.0 896V901.6M919.8 896V901.6M947.5 896V901.6"/>
</g>
<text x="2.6" y="35.7" class="pl">a</text>
<text x="94.5" y="71.5" text-anchor="end">150</text>
<text x="94.5" y="348.2" text-anchor="end">100</text>
<text x="94.5" y="624.9" text-anchor="end">50</text>
<text x="94.5" y="901.6" text-anchor="end">0</text>
<text x="228" y="937.6">–10</text>
<text x="532" y="937.8" text-anchor="middle">0</text>
<text x="810.3" y="937.8" text-anchor="middle">10</text>
<text x="481" y="967.4">log<tspan font-size="17" dy="9.3">2</tspan><tspan dy="-9.3">(FC)</tspan></text>
<text transform="translate(25 575.5) rotate(-90)" letter-spacing="0.13">–log<tspan font-size="18.7" dy="8.6">10</tspan><tspan dy="-8.6">(</tspan><tspan font-style="italic">P</tspan>-value)</text>
<text x="153.3" y="64.9">Pspn</text>
<text x="153.3" y="98.6">Fscn2</text>
<text x="153.3" y="129.7">Aldh1a2</text>
<text x="153.3" y="161.9">Dll3</text>
<text x="153.3" y="193.1">Gng3</text>
<text x="153.3" y="228">Mab21l1</text>
<text x="153.3" y="258.8">Plxnb1</text>
<text x="153.3" y="289.5">Stmn3</text>
<text x="153.3" y="323.5">Vip</text>
<text x="153.3" y="355.2">Tubb3</text>
<text x="153.3" y="387">Nrg1</text>
<text x="153.3" y="419">Trex1</text>
<text x="153.3" y="452">Ttf1</text>
<text x="732" y="51.0">Sufu</text>
<text x="732" y="81.8">Ttc3</text>
<text x="732" y="115.5">Klf4</text>
<text x="732" y="147.4">Atp9b</text>
<text x="730" y="180.0">Tcf4</text>
<text x="732" y="210.5">Sema3c</text>
<text x="732" y="243.7">L1cam</text>
<text x="732" y="277.4">Phactr4</text>
<text x="732" y="308.4">Arhgef3</text>
<text x="732" y="340.0">Csgalnact2</text>
<text x="732" y="371.1">Notch2</text>
<text x="732" y="404.8">Pfkl</text>
<text x="732" y="436.5">Itgb1</text>
<text x="732" y="469.4">Pofut1</text>
<text x="732" y="501.5">Mapt</text>
<text x="732" y="533.1">Sh3pxd2a</text>
<text x="732" y="562.3">Cbr1</text>
<text x="732" y="595.4">Sod1</text>
<text x="732" y="629">Ece1</text>
<text x="732" y="661.5">Hes1</text>
<text x="732" y="693.4">Nav2</text>
<text x="732" y="726.2">Ptch1</text>
<text x="732" y="758">Sema3a</text>
<text x="901.1" y="53.2">Dpysl3</text>
<text x="901.1" y="86.9">Tgfb2</text>
<text x="901.1" y="117.4">Itgb4</text>
<text x="901.1" y="149.3">Fam213a</text>
<text x="901.1" y="183.0">Jag2</text>
<text x="901.1" y="214.3">Zeb2</text>
<text x="901.1" y="246.7">Ntf3</text>
<text x="901.1" y="279.3">Gli2</text>
<text x="901.1" y="311.7">Acss2</text>
<text x="901.1" y="341.6">Erbb2</text>
<text x="901.1" y="374.8">Grb10</text>
<text x="901.1" y="407.6">Ednrb</text>
<text x="901.1" y="438.4">Sema3d</text>
<text x="901.1" y="470.3">Cspg4</text>
<text x="901.1" y="502.1">Erbb3</text>
<text x="901.1" y="535.8">Elavl2</text>
<text x="901.1" y="567.7">Hlx</text>
<text x="901.1" y="600.8">Gli3</text>
<text x="901.1" y="632.7">Ebf3</text>
<text x="901.1" y="664.5">Gfra4</text>
<text x="901.1" y="696.3">Notch3</text>
<text x="901.1" y="728.2">Tagln3</text>
<text x="901.1" y="760.0">Sox2</text>
<text x="1084.2" y="36" class="pl">b</text>
<ellipse cx="1367.85" cy="531.6" rx="282.8" ry="277.1" fill="#aecdea" stroke="#c4daf0" stroke-width="1.5"/>
<circle cx="1697.1" cy="529.8" r="304.4" fill="#f8cbad" fill-opacity="0.5" stroke="#f4ebe6" stroke-opacity="0.9" stroke-width="2"/>
<text x="1258.4" y="516" text-anchor="middle">7142</text>
<text x="1506" y="516" text-anchor="middle">4210</text>
<text x="1769.2" y="516" text-anchor="middle">7859</text>
<text x="1349" y="889.5" text-anchor="middle">Human</text>
<text x="1711.4" y="889.5" text-anchor="middle">Mouse</text>
<text x="2.5" y="1048" class="pl">c</text>
<text x="1200.7" y="1062.5" text-anchor="middle">GO - Term</text>
<rect x="763.7" y="1096.3" width="875.1" height="17.7" fill="#9dc3e6"/>
<rect x="763.7" y="1114.0" width="762.0" height="17.7" fill="#f8cbad"/>
<text x="750.4" y="1121.0" text-anchor="end">Cell adhesion</text>
<rect x="763.7" y="1164.3" width="450.6" height="17.7" fill="#9dc3e6"/>
<rect x="763.7" y="1182.0" width="524.9" height="17.7" fill="#f8cbad"/>
<text x="750.4" y="1189.0" text-anchor="end">Negative regulation on cell proliferation</text>
<rect x="763.7" y="1232.3" width="407.3" height="17.7" fill="#9dc3e6"/>
<rect x="763.7" y="1250.0" width="648.5" height="17.7" fill="#f8cbad"/>
<text x="750.4" y="1257.0" text-anchor="end">Positive regulation of cell migration</text>
<rect x="763.7" y="1300.3" width="387.3" height="17.7" fill="#9dc3e6"/>
<rect x="763.7" y="1318.0" width="473.9" height="17.7" fill="#f8cbad"/>
<text x="750.4" y="1325.0" text-anchor="end">Nervous system development</text>
<rect x="763.7" y="1368.3" width="289.4" height="17.7" fill="#9dc3e6"/>
<rect x="763.7" y="1386.0" width="399.2" height="17.7" fill="#f8cbad"/>
<text x="750.4" y="1393.0" text-anchor="end">Cell migration</text>
<rect x="763.7" y="1436.3" width="261.6" height="17.7" fill="#9dc3e6"/>
<rect x="763.7" y="1454.0" width="424.5" height="17.7" fill="#f8cbad"/>
<text x="750.4" y="1461.0" text-anchor="end">Negative regulation of neuron projection development</text>
<rect x="763.7" y="1504.3" width="251.4" height="17.7" fill="#9dc3e6"/>
<rect x="763.7" y="1522.0" width="531.0" height="17.7" fill="#f8cbad"/>
<text x="750.4" y="1529.0" text-anchor="end">Neuron projection development</text>
<rect x="763.7" y="1572.3" width="239.2" height="17.7" fill="#9dc3e6"/>
<rect x="763.7" y="1590.0" width="375.9" height="17.7" fill="#f8cbad"/>
<text x="750.4" y="1597.0" text-anchor="end">Negative regulation of neuron differentiation</text>
<rect x="763.7" y="1640.3" width="181.2" height="17.7" fill="#9dc3e6"/>
<rect x="763.7" y="1658.0" width="399.6" height="17.7" fill="#f8cbad"/>
<text x="750.4" y="1665.0" text-anchor="end">Positive regulation of apoptotic process</text>
<rect x="763.7" y="1708.3" width="152.6" height="17.7" fill="#9dc3e6"/>
<rect x="763.7" y="1726.0" width="425.3" height="17.7" fill="#f8cbad"/>
<text x="750.4" y="1733.0" text-anchor="end">Positive regulation of neuron projection development</text>
<path d="M762.4 1080.1V1759.5" stroke="#d9d9d9" stroke-width="2.6" fill="none"/>
<text x="762.9" y="1793.3" text-anchor="middle">0</text>
<text x="911.3" y="1793.3" text-anchor="middle">2</text>
<text x="1059.8" y="1793.3" text-anchor="middle">4</text>
<text x="1208.2" y="1793.3" text-anchor="middle">6</text>
<text x="1356.7" y="1793.3" text-anchor="middle">8</text>
<text x="1505.1" y="1793.3" text-anchor="middle">10</text>
<text x="1653.5" y="1793.3" text-anchor="middle">12</text>
<text x="1802.0" y="1793.3" text-anchor="middle">14</text>
<text x="1196.5" y="1835.4">–log(<tspan font-style="italic">P</tspan> value)</text>
<rect x="878.7" y="1911.3" width="15.1" height="15.1" fill="#9dc3e6"/>
<rect x="1002.7" y="1911.3" width="15.1" height="15.1" fill="#f8cbad"/>
<text x="902.7" y="1926.6" style="font-size:25.2px">Human</text>
<text x="1027.9" y="1926.6" style="font-size:25.2px">Mouse</text>
</svg></body></html>
